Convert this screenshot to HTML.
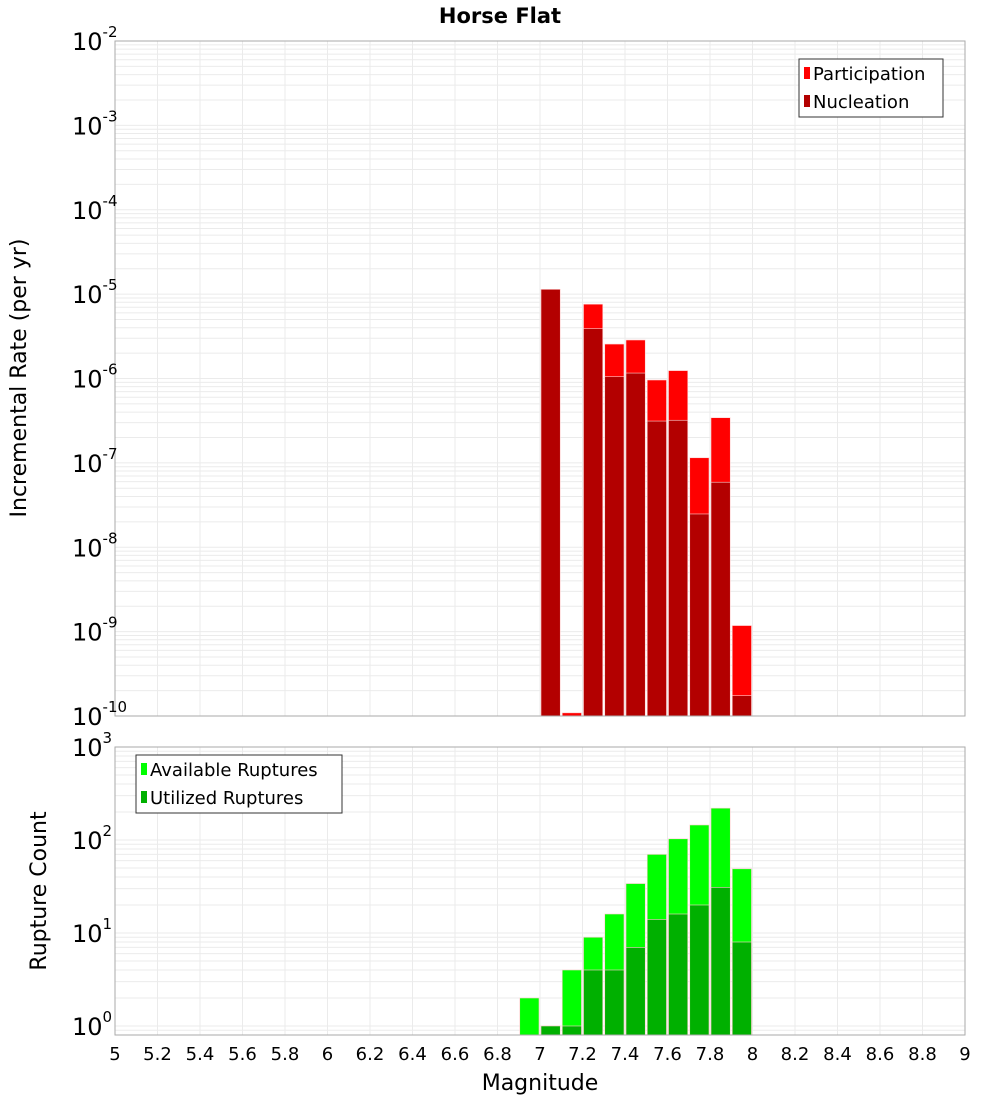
<!DOCTYPE html>
<html><head><meta charset="utf-8"><style>
body{margin:0;background:#fff;font-family:"DejaVu Sans","Liberation Sans",sans-serif}
svg{display:block}
</style></head><body>
<svg id="c" width="1000" height="1100" xmlns="http://www.w3.org/2000/svg" font-family="DejaVu Sans, Liberation Sans, sans-serif"></svg>
<script>
const binStarts=[7.0,7.1,7.2,7.3,7.4,7.5,7.6,7.7,7.8,7.9];
const participation=[1.14e-5,1.09e-10,7.6e-6,2.56e-6,2.86e-6,9.6e-7,1.24e-6,1.15e-7,3.43e-7,1.18e-9];
const nucleation=[1.14e-5,0,3.9e-6,1.05e-6,1.16e-6,3.13e-7,3.2e-7,2.48e-8,5.9e-8,1.74e-10];
const countBins=[6.9,7.0,7.1,7.2,7.3,7.4,7.5,7.6,7.7,7.8,7.9];
const available=[2,1,4,9,16,34,70,103,145,220,49];
const utilized=[0,1,1,4,4,7,14,16,20,31,8];
const xTicks=[5,5.2,5.4,5.6,5.8,6,6.2,6.4,6.6,6.8,7,7.2,7.4,7.6,7.8,8,8.2,8.4,8.6,8.8,9];
const topExps=[-10,-9,-8,-7,-6,-5,-4,-3,-2];
const botExps=[0,1,2,3];

const NS="http://www.w3.org/2000/svg";
const svg=document.getElementById('c');
function mk(t,a,p){const e=document.createElementNS(NS,t);for(const k in a)e.setAttribute(k,a[k]);(p||svg).appendChild(e);return e;}
const X0=115,X1=965;
const xs=m=>X0+(m-5)/4*(X1-X0);
const T={top:41,bot:716,lo:-10,hi:-2};
const B={top:747,bot:1035,lo:Math.log10(0.8),hi:3};
const ys=(P,v)=>P.bot-(Math.log10(v)-P.lo)/(P.hi-P.lo)*(P.bot-P.top);

function grid(P,loE,hiE,name){
  const g=mk('g',{});
  
  
  for(let e=loE;e<=hiE;e++){for(let k=1;k<10;k++){const v=k*Math.pow(10,e);const y=ys(P,v);if(y<P.top-0.5||y>P.bot+0.5)continue;
    mk('line',{x1:X0,x2:X1,y1:y,y2:y,stroke:'#ebebeb','stroke-width':1},g);}}
  xTicks.forEach(t=>{const x=xs(t);mk('line',{x1:x,x2:x,y1:P.top,y2:P.bot,stroke:'#ebebeb','stroke-width':1},g);});
}
grid(T,-10,-3,'top-gridlines');
grid(B,-1,2,'bottom-gridlines');

function bars(P,bins,vals,color,name){
  const g=mk('g',{});
  
  
  bins.forEach((b,i)=>{const v=vals[i];if(!(v>0))return;const x=xs(b)+1,w=xs(b+0.1)-xs(b)-2;const y=ys(P,v);
    const r=mk('rect',{x:x,y:y,width:w,height:P.bot-y,fill:color,stroke:'#ffd0d0','stroke-width':0.6},g);
    
    });
}
bars(T,binStarts,participation,'#ff0000','participation');
bars(T,binStarts,nucleation,'#b30000','nucleation');
bars(B,countBins,available,'#00ff00','available-ruptures');
bars(B,countBins,utilized,'#00b000','utilized-ruptures');

[[T,'top-plot-frame'],[B,'bottom-plot-frame']].forEach(([P,n])=>{const r=mk('rect',{x:X0,y:P.top,width:X1-X0,height:P.bot-P.top,fill:'none',stroke:'#aaa','stroke-width':1});
  });

function ylabels(P,exps,name){
  const g=mk('g',{});
  
  
  exps.forEach(e=>{const y=ys(P,Math.pow(10,e));const t=mk('text',{x:72,y:y+9,'font-size':24,fill:'#000'},g);
    t.textContent='10';const s=mk('tspan',{dy:-13,'font-size':15},t);s.textContent=String(e);});
}
ylabels(T,topExps,'top-y-tick-labels');
ylabels(B,botExps,'bottom-y-tick-labels');

const xg=mk('g',{});


xTicks.forEach(t=>{const tx=mk('text',{x:xs(t),y:1060,'font-size':18,'text-anchor':'middle'},xg);tx.textContent=String(t);});

function txt(a,s,n){const t=mk('text',a);t.textContent=s;return t;}
txt({x:500,y:23,'font-size':21,'font-weight':'bold','text-anchor':'middle'},'Horse Flat','chart-title');
txt({x:540,y:1090,'font-size':22,'text-anchor':'middle'},'Magnitude','x-axis-title');
txt({x:0,y:0,'font-size':22,'text-anchor':'middle',transform:'translate(26,378) rotate(-90)'},'Incremental Rate (per yr)','top-y-axis-title');
txt({x:0,y:0,'font-size':22,'text-anchor':'middle',transform:'translate(46,891) rotate(-90)'},'Rupture Count','bottom-y-axis-title');

function legend(x,y,w,items,name){
  const g=mk('g',{});
  
  
  mk('rect',{x:x,y:y,width:w,height:58,fill:'#fff',stroke:'#333','stroke-width':1},g);
  items.forEach((it,i)=>{const cy=y+14+i*28;mk('rect',{x:x+5,y:cy-6,width:6,height:12,fill:it[1]},g);
    const t=mk('text',{x:x+14,y:cy+7,'font-size':18},g);t.textContent=it[0];});
}
legend(799,59,144,[['Participation','#ff0000'],['Nucleation','#b30000']],'top-legend');
legend(136,755,206,[['Available Ruptures','#00ff00'],['Utilized Ruptures','#00b000']],'bottom-legend');
</script>
</body></html>
